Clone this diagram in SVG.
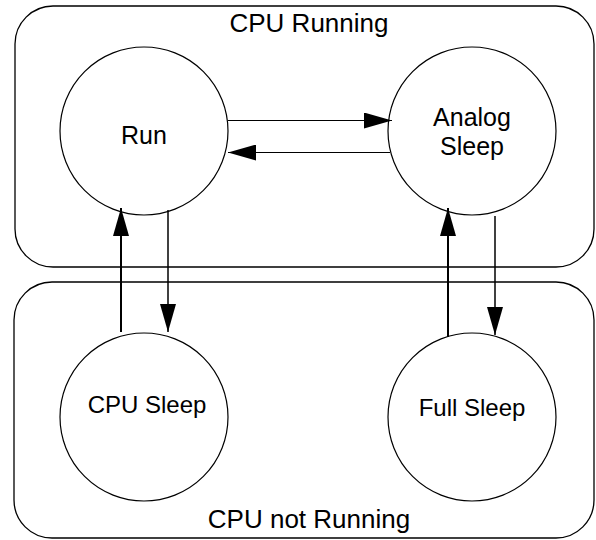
<svg xmlns="http://www.w3.org/2000/svg" width="596" height="540" viewBox="0 0 596 540">
  <style>
    .region { fill: none; stroke: #000; stroke-width: 1.3; }
    .state { fill: #fff; stroke: #000; stroke-width: 1.2; }
    .lbl { font-family: "Liberation Sans", Arial, sans-serif; fill: #000; text-anchor: middle; }
    .title { font-size: 26px; }
    .node { font-size: 25px; }
    .thin { stroke: #000; stroke-width: 1.2; fill: none; }
    .mid { stroke: #000; stroke-width: 1.5; fill: none; }
    .thick { stroke: #000; stroke-width: 2; fill: none; }
  </style>
  <defs>
    <marker id="arr" markerUnits="userSpaceOnUse" markerWidth="28" markerHeight="16" refX="28" refY="8" orient="auto">
      <path d="M0,0 L28,8 L0,16 z" fill="#000"/>
    </marker>
  </defs>
  <rect width="596" height="540" fill="#fff"/>

  <g id="region-running">
    <rect class="region" x="15" y="6" width="579" height="261" rx="38" ry="38"/>
    <text class="lbl title" x="309" y="32">CPU Running</text>
  </g>
  <g id="region-not-running">
    <rect class="region" x="14" y="282" width="580" height="256" rx="38" ry="38"/>
    <text class="lbl title" x="309" y="528">CPU not Running</text>
  </g>

  <g id="run">
    <circle class="state" cx="144" cy="131" r="84"/>
    <text class="lbl node" x="144" y="144">Run</text>
  </g>
  <g id="analog-sleep">
    <circle class="state" cx="472" cy="131" r="84"/>
    <text class="lbl node" x="472" y="126">Analog</text>
    <text class="lbl node" x="472" y="155">Sleep</text>
  </g>
  <g id="cpu-sleep">
    <circle class="state" cx="144" cy="417" r="84"/>
    <text class="lbl node" x="147" y="413" style="font-size:24px">CPU Sleep</text>
  </g>
  <g id="full-sleep">
    <circle class="state" cx="472" cy="417" r="84"/>
    <text class="lbl node" x="472" y="416" style="font-size:24px">Full Sleep</text>
  </g>

  <g id="connectors">
    <line class="thin" x1="228" y1="120.5" x2="392" y2="120.5" marker-end="url(#arr)"/>
    <line class="thin" x1="390" y1="152.5" x2="228" y2="152.5" marker-end="url(#arr)"/>
    <line class="thick" x1="121" y1="332" x2="121" y2="208" marker-end="url(#arr)"/>
    <line class="mid" x1="168" y1="210" x2="168" y2="332" marker-end="url(#arr)"/>
    <line class="thick" x1="448" y1="337" x2="448" y2="208" marker-end="url(#arr)"/>
    <line class="mid" x1="495" y1="216" x2="495" y2="335" marker-end="url(#arr)"/>
  </g>
</svg>
